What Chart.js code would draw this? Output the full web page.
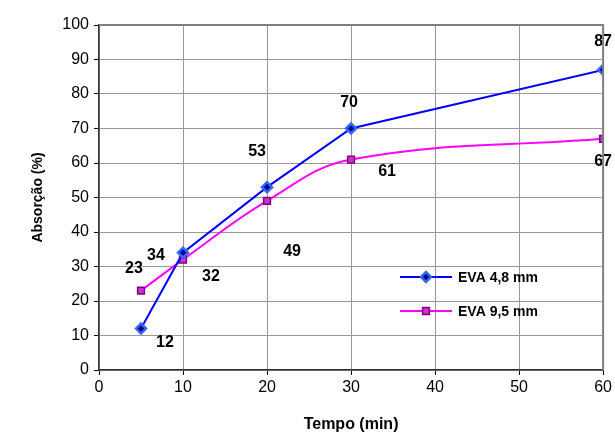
<!DOCTYPE html>
<html>
<head>
<meta charset="utf-8">
<script src="https://cdn.jsdelivr.net/npm/chart.js@4/dist/chart.umd.min.js"></script>
<style>
  html, body { margin: 0; padding: 0; background: #fff; }
  #wrap { width: 615px; height: 434px; }
</style>
</head>
<body>
<div id="wrap"><canvas id="chart"></canvas></div>
<script>
// data
const tempo = [5, 10, 20, 30, 60];
const eva48 = [12, 34, 53, 70, 87];
const eva95 = [23, 32, 49, 61, 67];
const xTicks = [0, 10, 20, 30, 40, 50, 60];
const yTicks = [0, 10, 20, 30, 40, 50, 60, 70, 80, 90, 100];

// where each value label sits relative to its point (px)
const off48 = [[24, 14], [-27, 3], [-10, -36], [-2, -26], [0, -28]];
const off95 = [[-7, -22], [28, 17], [25, 51], [36, 12], [0, 23]];

const FONT = "'Liberation Sans', Arial, sans-serif";

function pts(ys) {
  return tempo.map((x, i) => ({ x: x, y: ys[i] }));
}

// value labels next to the points
const valueLabels = {
  id: 'valueLabels',
  afterDatasetsDraw(chart) {
    const ctx = chart.ctx;
    const offs = [off48, off95];
    ctx.save();
    ctx.font = 'bold 16px ' + FONT;
    ctx.fillStyle = '#000';
    ctx.textAlign = 'center';
    ctx.textBaseline = 'middle';
    chart.data.datasets.forEach((ds, d) => {
      chart.getDatasetMeta(d).data.forEach((p, i) => {
        ctx.fillText(String(ds.data[i].y), p.x + offs[d][i][0], p.y + offs[d][i][1]);
      });
    });
    ctx.restore();
  }
};

// grey frame on top / right, legend inside the plot
const frameAndLegend = {
  id: 'frameAndLegend',
  afterDatasetsDraw(chart) {
    const ctx = chart.ctx;
    const a = chart.chartArea;
    ctx.save();
    ctx.strokeStyle = '#808080';
    ctx.lineWidth = 2;
    ctx.beginPath();
    ctx.moveTo(a.left, a.top);
    ctx.lineTo(a.right, a.top);
    ctx.lineTo(a.right, a.bottom);
    ctx.stroke();

    const rows = [277, 311];
    chart.data.datasets.forEach((ds, d) => {
      const y = rows[d];
      ctx.strokeStyle = ds.borderColor;
      ctx.lineWidth = 2;
      ctx.beginPath();
      ctx.moveTo(400, y);
      ctx.lineTo(452, y);
      ctx.stroke();
      ctx.fillStyle = ds.pointBackgroundColor;
      ctx.strokeStyle = ds.pointBorderColor;
      ctx.lineWidth = ds.pointBorderWidth;
      Chart.helpers.drawPoint(ctx, { pointStyle: ds.pointStyle, radius: ds.pointRadius, borderWidth: ds.pointBorderWidth }, 426, y);
      ctx.fillStyle = '#000';
      ctx.font = 'bold 14px ' + FONT;
      ctx.textAlign = 'left';
      ctx.textBaseline = 'middle';
      ctx.fillText(ds.label, 458, y + 1);
    });
    ctx.restore();
  }
};

new Chart(document.getElementById('chart'), {
  type: 'line',
  data: {
    datasets: [{
      label: 'EVA 4,8 mm',
      data: pts(eva48),
      borderColor: '#0000FF',
      borderWidth: 2,
      tension: 0,
      pointStyle: 'rectRot',
      pointRadius: 5,
      pointBackgroundColor: '#000080',
      pointBorderColor: '#3366FF',
      pointBorderWidth: 2.5
    }, {
      label: 'EVA 9,5 mm',
      data: pts(eva95),
      borderColor: '#FF00FF',
      borderWidth: 2,
      tension: 0.4,
      pointStyle: 'rect',
      pointRadius: 4.8,
      pointBackgroundColor: '#CC33CC',
      pointBorderColor: '#800080',
      pointBorderWidth: 1.5
    }]
  },
  options: {
    responsive: true,
    maintainAspectRatio: false,
    animation: false,
    layout: { padding: { top: 25, right: 9, left: 0, bottom: 0 } },
    plugins: {
      legend: { display: false },
      tooltip: { enabled: false }
    },
    scales: {
      x: {
        type: 'linear',
        min: 0,
        max: 60,
        afterBuildTicks: s => { s.ticks = xTicks.map(v => ({ value: v })); },
        afterFit: s => { s.height = 64; },
        ticks: { color: '#000', font: { family: FONT, size: 16 }, padding: 3, maxRotation: 0 },
        grid: { color: '#999', borderDash: [2, 2], tickLength: 5, tickColor: '#000', tickBorderDash: [] },
        border: { display: true, color: '#333', width: 1.5 },
        title: { display: true, text: 'Tempo (min)', color: '#000', font: { family: FONT, size: 16, weight: 'bold' }, padding: { top: 0, bottom: 0 } }
      },
      y: {
        min: 0,
        max: 100,
        afterBuildTicks: s => { s.ticks = yTicks.map(v => ({ value: v })); },
        afterFit: s => { s.width = 99; },
        ticks: { color: '#000', font: { family: FONT, size: 16 }, padding: 5 },
        grid: { color: '#999', borderDash: [2, 2], tickLength: 5, tickColor: '#000', tickBorderDash: [] },
        border: { display: true, color: '#333', width: 1.5 },
        title: { display: true, text: 'Absorção (%)', color: '#000', font: { family: FONT, size: 14, weight: 'bold' }, padding: { top: 30, bottom: 0 } }
      }
    }
  },
  plugins: [valueLabels, frameAndLegend]
});
</script>
</body>
</html>
